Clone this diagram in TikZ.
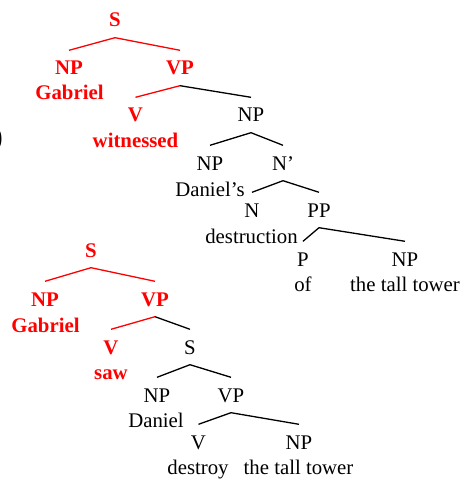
\documentclass[tikz,border=0pt]{standalone}
\usepackage{fontspec}
\setmainfont{Liberation Serif}
\definecolor{treered}{RGB}{255,0,0}
\tikzset{
  cat/.style={anchor=base, inner sep=0pt, text height=14.5pt, text depth=0pt, font=\fontsize{20.8}{24}\selectfont},
  word/.style={anchor=base, inner sep=0pt, font=\fontsize{20.8}{24}\selectfont},
  rcat/.style={cat, text=treered, font=\fontsize{20.8}{24}\selectfont\bfseries},
  rword/.style={word, text=treered, font=\fontsize{20.8}{24}\selectfont\bfseries},
  bl/.style={draw=black, line width=1.3pt},
  rl/.style={draw=treered, line width=1.3pt},
}
\newcommand{\branch}[3]{\draw[#1] ([yshift=-10.5pt]#2.south) -- ([yshift=10pt]#3.north);}
\begin{document}
\begin{tikzpicture}[x=1pt,y=-1pt]
\useasboundingbox (0,0) rectangle (464,481);
% partial parenthesis at left edge
\node[anchor=east, inner sep=0pt, font=\fontsize{30}{34}\selectfont] (paren) at (3,139) {)};
% ---- top tree ----
\node[rcat] (S1) at (115,27) {S};
\node[rcat] (NP1) at (69,75) {NP};
\node[rword] (w1) at (69.5,100) {Gabriel};
\node[rcat] (VP1) at (180,75) {VP};
\node[rcat] (V1) at (135.5,122) {V};
\node[rword] (w2) at (135.5,148) {witnessed};
\node[cat] (NP2) at (251,122) {NP};
\node[cat] (NP3) at (210,170) {NP};
\node[word] (w3) at (210,196) {Daniel's};
\node[cat] (Nb1) at (283,170) {N'};
\node[cat] (N1) at (252,217) {N};
\node[word] (w4) at (251.5,243) {destruction};
\node[cat] (PP1) at (319,217) {PP};
\node[cat] (P1) at (303,266) {P};
\node[word] (w5) at (303,291) {of};
\node[cat] (NP4) at (405,266) {NP};
\node[word] (w6) at (405,291) {the tall tower};
\branch{rl}{S1}{NP1}
\branch{rl}{S1}{VP1}
\branch{rl}{VP1}{V1}
\branch{bl}{VP1}{NP2}
\branch{bl}{NP2}{NP3}
\branch{bl}{NP2}{Nb1}
\branch{bl}{Nb1}{N1}
\branch{bl}{Nb1}{PP1}
\branch{bl}{PP1}{P1}
\branch{bl}{PP1}{NP4}
% ---- bottom tree ----
\node[rcat] (S2) at (91,257) {S};
\node[rcat] (NP5) at (45,306) {NP};
\node[rword] (w7) at (45.5,332) {Gabriel};
\node[rcat] (VP2) at (155,306) {VP};
\node[rcat] (V2) at (111,354) {V};
\node[rword] (w8) at (111,379) {saw};
\node[cat] (S3) at (190,354) {S};
\node[cat] (NP6) at (157,402) {NP};
\node[word] (w9) at (156,427) {Daniel};
\node[cat] (VP3) at (231,402) {VP};
\node[cat] (V3) at (198.5,449) {V};
\node[word] (w10) at (198,474) {destroy};
\node[cat] (NP7) at (299,449) {NP};
\node[word] (w11) at (298.5,474) {the tall tower};
\branch{rl}{S2}{NP5}
\branch{rl}{S2}{VP2}
\branch{rl}{VP2}{V2}
\branch{bl}{VP2}{S3}
\branch{bl}{S3}{NP6}
\branch{bl}{S3}{VP3}
\branch{bl}{VP3}{V3}
\branch{bl}{VP3}{NP7}
\end{tikzpicture}
\end{document}
